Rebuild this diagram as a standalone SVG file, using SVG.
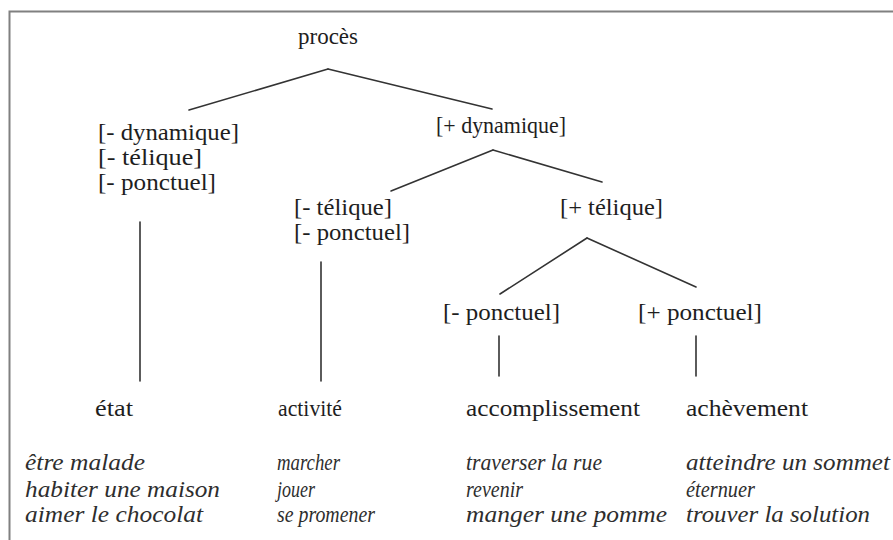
<svg xmlns="http://www.w3.org/2000/svg" width="893" height="540" viewBox="0 0 893 540">
<style>
text{font-family:'Liberation Serif','Times New Roman',serif}
.t{font-size:23px;fill:#1e1e1e}
.i{font-size:23px;font-style:italic;fill:#2e2e2e}
.c line{stroke:#333;stroke-width:1.6;stroke-linecap:round}
</style>
<rect x="0" y="0" width="893" height="540" fill="#fff"/>
<path d="M9.5 545 V11.5 H900" fill="none" stroke="#808080" stroke-width="2"/>
<g class="c" id="connectors">
<line x1="328" y1="69" x2="189" y2="110"/>
<line x1="328" y1="69" x2="492" y2="109"/>
<line x1="493" y1="150" x2="391" y2="191"/>
<line x1="493" y1="150" x2="602" y2="182"/>
<line x1="587" y1="238" x2="500" y2="294"/>
<line x1="587" y1="238" x2="696" y2="287"/>
<line x1="140" y1="222" x2="140" y2="381"/>
<line x1="321" y1="262" x2="321" y2="381"/>
<line x1="499" y1="336" x2="499" y2="376"/>
<line x1="696" y1="336" x2="696" y2="376"/>
</g>
<g id="proces"><text class="t" x="328" y="44" text-anchor="middle">procès</text></g>
<g id="moins-dynamique">
<text class="t" x="98" y="140" textLength="141" lengthAdjust="spacingAndGlyphs">[- dynamique]</text>
<text class="t" x="98" y="165" textLength="104" lengthAdjust="spacingAndGlyphs">[- télique]</text>
<text class="t" x="98" y="190" textLength="118" lengthAdjust="spacingAndGlyphs">[- ponctuel]</text>
</g>
<g id="plus-dynamique"><text class="t" x="436" y="133" textLength="130" lengthAdjust="spacingAndGlyphs">[+ dynamique]</text></g>
<g id="moins-telique">
<text class="t" x="294" y="215" textLength="98" lengthAdjust="spacingAndGlyphs">[- télique]</text>
<text class="t" x="294" y="240" textLength="116" lengthAdjust="spacingAndGlyphs">[- ponctuel]</text>
</g>
<g id="plus-telique"><text class="t" x="560" y="215" textLength="103" lengthAdjust="spacingAndGlyphs">[+ télique]</text></g>
<g id="moins-ponctuel"><text class="t" x="443" y="320" textLength="117" lengthAdjust="spacingAndGlyphs">[- ponctuel]</text></g>
<g id="plus-ponctuel"><text class="t" x="638" y="320" textLength="124" lengthAdjust="spacingAndGlyphs">[+ ponctuel]</text></g>
<g id="etat">
<text class="t" x="95" y="416" textLength="38" lengthAdjust="spacingAndGlyphs">état</text>
<text class="i" x="25" y="470" textLength="120" lengthAdjust="spacingAndGlyphs">être malade</text>
<text class="i" x="25" y="497" textLength="195" lengthAdjust="spacingAndGlyphs">habiter une maison</text>
<text class="i" x="25" y="522" textLength="178" lengthAdjust="spacingAndGlyphs">aimer le chocolat</text>
</g>
<g id="activite">
<text class="t" x="278" y="416" textLength="64" lengthAdjust="spacingAndGlyphs">activité</text>
<text class="i" x="277" y="470" textLength="63" lengthAdjust="spacingAndGlyphs">marcher</text>
<text class="i" x="277" y="497" textLength="38" lengthAdjust="spacingAndGlyphs">jouer</text>
<text class="i" x="277" y="522" textLength="98" lengthAdjust="spacingAndGlyphs">se promener</text>
</g>
<g id="accomplissement">
<text class="t" x="466" y="416" textLength="174" lengthAdjust="spacingAndGlyphs">accomplissement</text>
<text class="i" x="466" y="470" textLength="136" lengthAdjust="spacingAndGlyphs">traverser la rue</text>
<text class="i" x="466" y="497" textLength="57" lengthAdjust="spacingAndGlyphs">revenir</text>
<text class="i" x="466" y="522" textLength="201" lengthAdjust="spacingAndGlyphs">manger une pomme</text>
</g>
<g id="achevement">
<text class="t" x="686" y="416" textLength="122" lengthAdjust="spacingAndGlyphs">achèvement</text>
<text class="i" x="686" y="470" textLength="204" lengthAdjust="spacingAndGlyphs">atteindre un sommet</text>
<text class="i" x="686" y="497" textLength="69" lengthAdjust="spacingAndGlyphs">éternuer</text>
<text class="i" x="686" y="522" textLength="184" lengthAdjust="spacingAndGlyphs">trouver la solution</text>
</g>
</svg>
